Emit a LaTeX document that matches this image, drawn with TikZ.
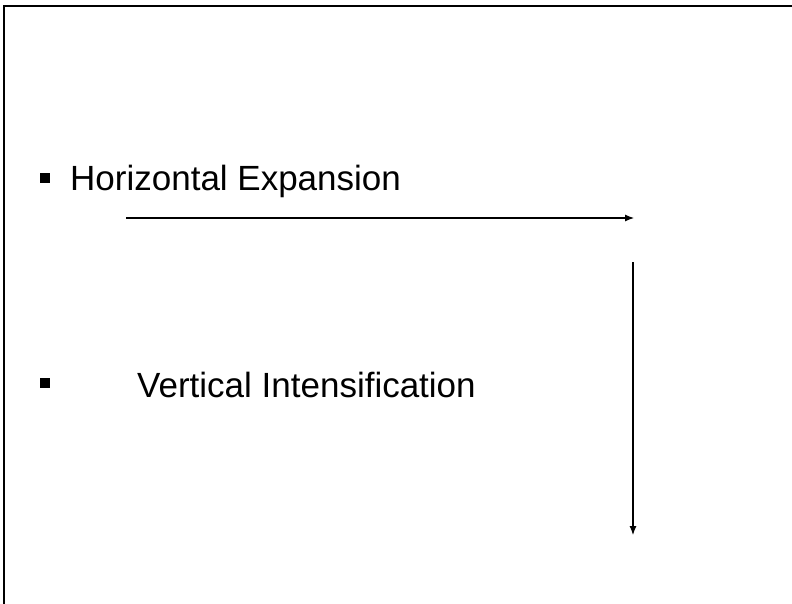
\documentclass[tikz,border=0pt]{standalone}
\usepackage{fontspec}
\setmainfont{Liberation Sans}
\usetikzlibrary{arrows.meta}
\begin{document}
\begin{tikzpicture}[x=1pt,y=-1pt,
  label/.style={anchor=base west,inner sep=0pt,font=\fontsize{35}{42}\selectfont},
  bulletsq/.style={fill=black,draw=none,minimum size=10pt,inner sep=0pt,rectangle},
  arr/.style={line width=1.1pt,-{Latex[length=9pt,width=7pt]}},
  frame/.style={line width=2.2pt}]
\useasboundingbox (0,0) rectangle (792,604);
\draw[frame] (4,604) -- (4,6) -- (792,6);
\node[bulletsq] (b1) at (45,178) {};
\node[label] (t1) at (70,191) {Horizontal Expansion};
\node[bulletsq] (b2) at (45,383) {};
\node[label] (t2) at (137,397) {Vertical Intensification};
\coordinate (h1) at (126,218);
\coordinate (h2) at (634,218);
\coordinate (v1) at (633,262);
\coordinate (v2) at (633,535);
\draw[arr] (h1) -- (h2);
\draw[arr] (v1) -- (v2);
\end{tikzpicture}
\end{document}
